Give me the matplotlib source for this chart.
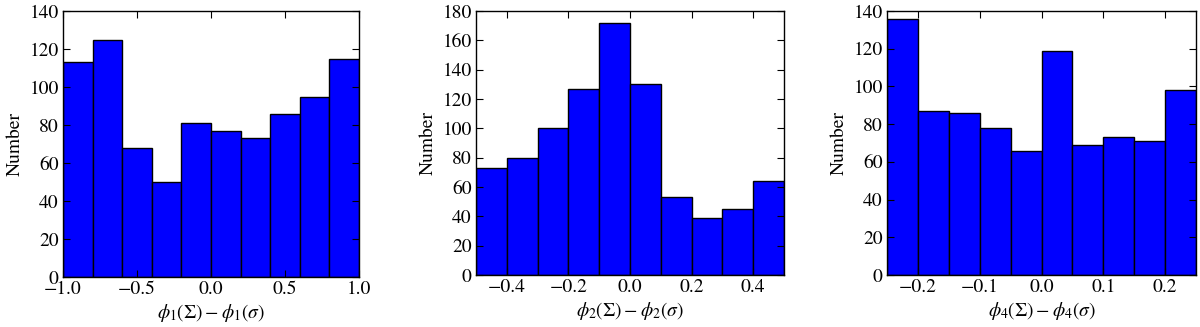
import matplotlib
matplotlib.use("Agg")
import matplotlib.pyplot as plt
import numpy as np

# histogram counts
counts_1 = [113, 125, 68, 50, 81, 77, 73, 86, 95, 115]
counts_2 = [73, 80, 100, 127, 172, 130, 53, 39, 45, 64]
counts_4 = [136, 87, 86, 78, 66, 119, 69, 73, 71, 98]

edges_1 = np.linspace(-1.0, 1.0, 11)
edges_2 = np.linspace(-0.5, 0.5, 11)
edges_4 = np.linspace(-0.25, 0.25, 11)

xlabels = [r"$\phi_1(\Sigma)-\phi_1(\sigma)$",
           r"$\phi_2(\Sigma)-\phi_2(\sigma)$",
           r"$\phi_4(\Sigma)-\phi_4(\sigma)$"]
ylims = [140, 180, 140]
xticks = [[-1.0, -0.5, 0.0, 0.5, 1.0],
          [-0.4, -0.2, 0.0, 0.2, 0.4],
          [-0.2, -0.1, 0.0, 0.1, 0.2]]

plt.rcParams['font.family'] = 'STIXGeneral'
plt.rcParams['mathtext.fontset'] = 'stix'
plt.rcParams['font.size'] = 14
plt.rcParams['axes.unicode_minus'] = True

W, H = 1200, 327
fig = plt.figure(figsize=(W/100, H/100), dpi=100)

# axes boxes in pixels: left, bottom, width, height
boxes = [(63, 50, 296, 266), (476, 52, 308, 264), (887, 52, 309, 264)]

data = [(counts_1, edges_1), (counts_2, edges_2), (counts_4, edges_4)]

for i, (counts, edges) in enumerate(data):
    l, b, w, h = boxes[i]
    ax = fig.add_axes([l/W, b/H, w/W, h/H])
    centers = 0.5*(edges[:-1] + edges[1:])
    ax.hist(centers, bins=edges, weights=counts, color='#0000ff',
            edgecolor='black', linewidth=1.0)
    ax.set_xlim(edges[0], edges[-1])
    ax.set_ylim(0, ylims[i])
    ax.set_xticks(xticks[i])
    ax.set_yticks(np.arange(0, ylims[i]+1, 20))
    ax.tick_params(direction='in', top=True, right=True, length=5, width=0.8, pad=3)
    for s in ax.spines.values():
        s.set_linewidth(1.0)
    ax.set_xlabel(xlabels[i], labelpad=3)
    ax.set_ylabel("Number", labelpad=4)

fig.savefig("out.png", dpi=100)
